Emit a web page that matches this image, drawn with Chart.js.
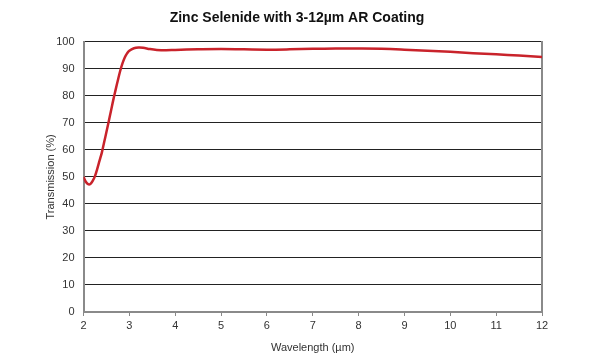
<!DOCTYPE html>
<html>
<head>
<meta charset="utf-8">
<script src="https://cdn.jsdelivr.net/npm/chart.js@4/dist/chart.umd.min.js"></script>
<style>
  html, body { margin: 0; padding: 0; background: #fff; }
  #wrap { width: 594px; height: 364px; }
</style>
</head>
<body>
<div id="wrap"><canvas id="znseChart" width="594" height="364"></canvas></div>
<script>
// wavelength in µm, transmission in %
const wavelength = [2.0, 2.05, 2.1, 2.15, 2.2, 2.25, 2.3, 2.35, 2.4, 2.45, 2.5, 2.55, 2.6, 2.65, 2.7,
  2.75, 2.8, 2.85, 2.9, 2.95, 3.0, 3.1, 3.2, 3.3, 3.45, 3.6, 3.8, 4.0, 4.5, 5.0, 5.5, 6.0, 6.5,
  7.0, 7.5, 8.0, 8.5, 9.0, 9.5, 10.0, 10.5, 11.0, 11.5, 12.0];
const transmission = [50, 48.2, 47.3, 47.4, 48.5, 50.3, 53, 56, 59, 62.8, 66.6, 70.5, 74.5, 78.5, 82.2,
  85.8, 89.2, 92, 94.2, 95.7, 96.7, 97.6, 97.9, 97.8, 97.3, 97.0, 96.9, 97.0, 97.2, 97.3, 97.2, 97.1, 97.2,
  97.4, 97.5, 97.5, 97.4, 97.1, 96.7, 96.3, 95.8, 95.4, 94.9, 94.4];
const xTicks = [2, 3, 4, 5, 6, 7, 8, 9, 10, 11, 12];
const yTicks = [0, 10, 20, 30, 40, 50, 60, 70, 80, 90, 100];

const points = wavelength.map((w, i) => ({ x: w, y: transmission[i] }));

const FONT = "'Liberation Sans', Arial, sans-serif";

new Chart(document.getElementById("znseChart"), {
  type: "line",
  data: {
    datasets: [{
      label: "Transmission",
      data: points,
      borderColor: "#c9232b",
      borderWidth: 2.5,
      pointRadius: 0,
      tension: 0.4,
      fill: false
    }]
  },
  options: {
    responsive: false,
    animation: false,
    layout: { padding: 0 },
    plugins: {
      legend: { display: false },
      tooltip: { enabled: false },
      title: {
        display: true,
        text: "Zinc Selenide with 3-12µm AR Coating",
        color: "#111",
        font: { family: FONT, size: 14, weight: "bold" },
        padding: { top: 10, bottom: 15 }
      }
    },
    scales: {
      x: {
        type: "linear",
        min: 2,
        max: 12,
        afterBuildTicks: s => { s.ticks = xTicks.map(v => ({ value: v })); },
        afterFit: s => { s.height = 52; },
        ticks: { color: "#333", font: { family: FONT, size: 11 }, padding: 3, maxRotation: 0 },
        grid: { drawOnChartArea: false, drawTicks: true, tickLength: 4, color: "#888", lineWidth: 1 },
        border: { color: "#8a8a8a", width: 2 },
        title: {
          display: true,
          text: "Wavelength (µm)",
          color: "#333",
          font: { family: FONT, size: 11 },
          padding: { top: 0, bottom: 9 }
        }
      },
      y: {
        min: 0,
        max: 100,
        afterBuildTicks: s => { s.ticks = yTicks.map(v => ({ value: v })); },
        afterFit: s => { s.width = 83.5; },
        ticks: { color: "#333", font: { family: FONT, size: 11 }, padding: 9 },
        grid: { color: "#222", lineWidth: 1, drawTicks: false },
        border: { color: "#8a8a8a", width: 2 },
        title: {
          display: true,
          text: "Transmission (%)",
          color: "#333",
          font: { family: FONT, size: 11 },
          padding: { top: 44, bottom: 0 }
        }
      },
      y2: {
        position: "right",
        min: 0,
        max: 100,
        afterFit: s => { s.width = 52; },
        ticks: { display: false },
        grid: { drawOnChartArea: false, drawTicks: false },
        border: { color: "#8a8a8a", width: 2 }
      }
    }
  }
});
</script>
</body>
</html>
